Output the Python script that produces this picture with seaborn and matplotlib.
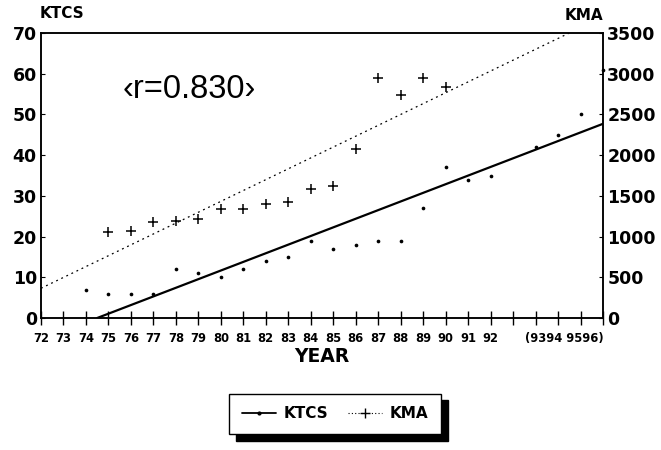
import numpy as np
import pandas as pd
import matplotlib
matplotlib.use("Agg")
import matplotlib.pyplot as plt
import seaborn as sns
from matplotlib.lines import Line2D

sns.set_theme(style="white")
plt.rcParams['font.family'] = ['DejaVu Sans']
plt.rcParams['text.color'] = 'black'
plt.rcParams['xtick.color'] = 'black'
plt.rcParams['ytick.color'] = 'black'
plt.rcParams['axes.labelcolor'] = 'black'

# ---- data ----
ktcs_x = [74, 75, 76, 77, 78, 79, 80, 81, 82, 83, 84, 85, 86, 87, 88, 89, 90, 91, 92, 94, 95, 96, 97]
ktcs_y = [7, 6, 6, 6, 12, 11, 10, 12, 14, 15, 19, 17, 18, 19, 19, 27, 37, 34, 35, 42, 45, 50, 61]

kma_x = [75, 76, 77, 78, 79, 80, 81, 82, 83, 84, 85, 86, 87, 88, 89, 90]
kma_y = [1060, 1070, 1185, 1195, 1220, 1335, 1340, 1400, 1420, 1580, 1625, 2070, 2950, 2740, 2950, 2835]

ktcs_fit_x = [74.5, 97]
ktcs_fit_y = [0, 47.7]
kma_fit_x = [72, 95.5]
kma_fit_y = [365, 3500]

tick_years = list(range(72, 98))
tick_labels = [str(y) for y in range(72, 93)] + [""] * 5
tail_label = "(9394 9596)"
r_label = "\u2039r=0.830\u203a"

fig = plt.figure(figsize=(6.61, 4.5), dpi=100)
ax = fig.add_axes([41/661, 1-318/450, (603-41)/661, (318-33)/450])
ax2 = ax.twinx()

df_k = pd.DataFrame({"x": ktcs_x, "y": ktcs_y})
df_m = pd.DataFrame({"x": kma_x, "y": kma_y})

sns.lineplot(x=ktcs_fit_x, y=ktcs_fit_y, ax=ax, color="black", lw=1.6, clip_on=True)
sns.scatterplot(data=df_k, x="x", y="y", ax=ax, color="black", s=7, marker="o",
                edgecolor="black", linewidth=0, clip_on=False)
sns.lineplot(x=kma_fit_x, y=kma_fit_y, ax=ax2, color="black", lw=0.9,
             linestyle=(0, (1.5, 3)))
sns.scatterplot(data=df_m, x="x", y="y", ax=ax2, color="black", s=48, marker="+",
                linewidth=1.1)

ax.set_xlim(72, 97)
ax.set_ylim(0, 70)
ax2.set_ylim(0, 3500)
ax.set_xticks(tick_years)
ax.set_xticklabels(tick_labels)
ax.set_yticks(range(0, 71, 10))
ax2.set_yticks(range(0, 3501, 500))
ax.set_xlabel("")
ax.set_ylabel("")
ax2.set_ylabel("")

for a in (ax, ax2):
    for s in a.spines.values():
        s.set_color("black")
        s.set_linewidth(1.1)
        s.set_visible(True)

ax.tick_params(axis="x", bottom=True, direction="inout", length=10, width=1, color="black",
               labelcolor="black", labelsize=8.3, pad=5)
ax.tick_params(axis="y", left=True, direction="in", length=3, width=0.8, color="black",
               labelcolor="black", labelsize=12.5, pad=3)
ax2.tick_params(axis="y", right=True, direction="in", length=3, width=0.8, color="black",
                labelcolor="black", labelsize=12.5, pad=3)
for lab in ax.get_xticklabels() + ax.get_yticklabels() + ax2.get_yticklabels():
    lab.set_fontweight("bold")

ax.text(95.3, -5.0, tail_label, ha="center", va="center", fontsize=8.3,
        fontweight="bold", clip_on=False, color="black")

ax.text(78.6, 56.2, r_label, ha="center", va="center", fontsize=23.5, color="black",
        family=["Liberation Sans", "DejaVu Sans"])

fig.text(40/661, 1-14/450, "KTCS", ha="left", va="center", fontsize=11, fontweight="bold",
         color="black")
fig.text(603/661, 1-15/450, "KMA", ha="right", va="center", fontsize=11, fontweight="bold",
         color="black")
fig.text(322/661, 1-356/450, "YEAR", ha="center", va="center", fontsize=13.5,
         fontweight="bold", color="black")

handles = [
    Line2D([0], [0], color="black", lw=1.3, marker="o", markersize=2),
    Line2D([0], [0], color="black", lw=0.8, linestyle=(0, (1, 2)), marker="+", markersize=7),
]
leg = fig.legend(handles, ["KTCS", "KMA"], loc="center", ncol=2,
                 bbox_to_anchor=(335/661, 1-414/450), frameon=True, fancybox=False,
                 shadow={"ox": 5, "oy": -5, "color": "black", "alpha": 1},
                 prop={"weight": "bold", "size": 11}, handlelength=2.2,
                 columnspacing=1.3, borderpad=0.85, handletextpad=0.5, labelcolor="black")
leg.get_frame().set_edgecolor("black")
leg.get_frame().set_linewidth(1)

fig.savefig("out.png", dpi=100, facecolor="white")
